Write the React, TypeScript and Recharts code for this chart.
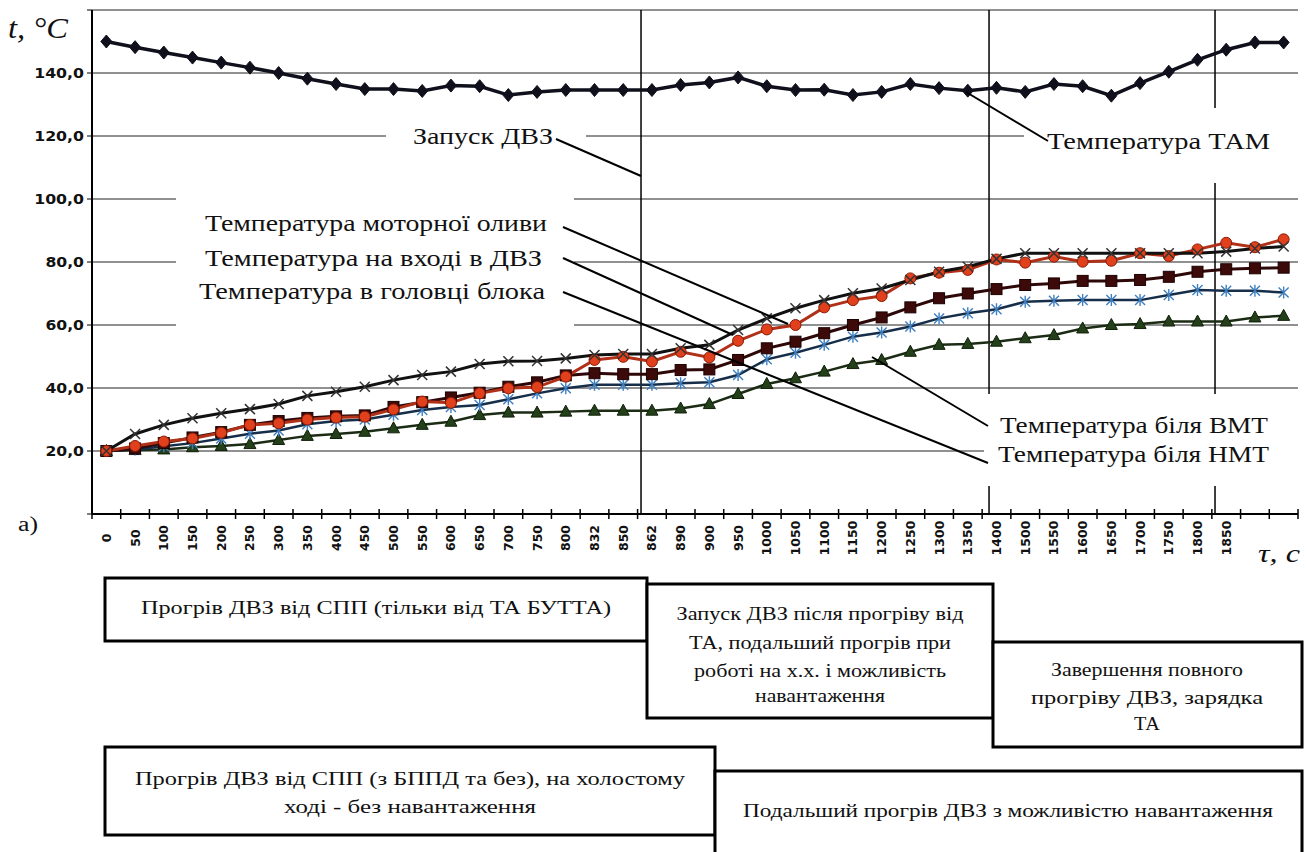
import React from 'react';
import { LineChart, Line, XAxis, YAxis, CartesianGrid, ReferenceLine } from 'recharts';

const timeLabels = ['0','50','100','150','200','250','300','350','400','450','500','550','600','650','700','750','800','832','850','862','890','900','950','1000','1050','1100','1150','1200','1250','1300','1350','1400','1500','1550','1600','1650','1700','1750','1800','1850','',''];

const tamTemp = [150,148.2,146.5,144.9,143.3,141.7,140,138.2,136.5,134.9,134.9,134.3,136,135.8,133,134,134.6,134.6,134.6,134.6,136.2,137,138.6,135.8,134.6,134.7,133,134,136.5,135.2,134.4,135.3,134,136.5,135.8,132.8,136.8,140.4,144.2,147.4,149.7,149.7];
const crossTemp = [20,25.4,28.3,30.4,32,33.3,34.9,37.5,38.8,40.4,42.5,44.1,45.2,47.6,48.5,48.6,49.4,50.5,50.8,50.8,52.6,53.7,58.4,62.1,65.3,67.9,70.1,71.6,74.3,76.9,78.5,81,82.8,82.8,82.8,82.8,82.8,82.8,82.8,83.3,84.3,84.9];
const oilTemp = [20,21.6,23,24,25.8,28.3,28.8,30,30.6,30.9,33.2,35.7,35.3,38.3,39.9,40.3,43.6,48.9,49.9,48.4,51.5,49.7,55,58.6,60,65.6,67.9,69.2,74.8,76.6,77.5,80.8,79.8,81.7,80.1,80.4,82.8,81.9,84,86.1,84.7,87.2];
const squareTemp = [20,20.8,22.5,24.3,26,28.3,29.5,30.5,31,31.3,34,35.5,37,38.5,40.4,41.8,44,44.7,44.4,44.4,45.7,45.9,48.9,52.6,54.7,57.4,60,62.4,65.6,68.5,70,71.4,72.7,73.2,74,74,74.3,75.3,76.9,77.7,78,78.2];
const starTemp = [20,20.5,21.5,22.5,24,25.5,26.5,28.5,29.5,30,31.5,33,34,34.6,36.4,38.3,39.9,41,41,41,41.5,41.8,44.1,49.1,51.2,53.7,56.3,57.6,59.5,62.1,63.7,65,67.4,67.7,67.9,67.9,67.9,69.5,71.1,70.9,70.9,70.3];
const triangleTemp = [20,20.3,20.5,21.2,21.6,22.2,23.5,24.8,25.4,26.1,27.2,28.3,29.3,31.4,32.2,32.2,32.5,32.8,32.8,32.8,33.5,34.9,38.1,41.3,43.1,45.2,47.6,48.9,51.5,53.7,54,54.7,55.8,56.8,58.9,60,60.3,61.1,61.1,61.1,62.4,62.9];

const yTicks = [0, 20, 40, 60, 80, 100, 120, 140, 160];
const phaseMarks = [18.62, 30.74, 38.61];

const data = timeLabels.map((label, i) => ({
  i,
  label,
  tam: tamTemp[i],
  cross: crossTemp[i],
  oil: oilTemp[i],
  square: squareTemp[i],
  star: starTemp[i],
  tri: triangleTemp[i],
}));

const xTicks: number[] = [];
for (let k = 0; k <= timeLabels.length * 2; k++) xTicks.push(-0.5 + k * 0.5);

const SERIF = 'Liberation Serif, Times New Roman, serif';
const SANS = 'DejaVu Sans, Verdana, sans-serif';

const XTick = (props: any) => {
  const { x, y, payload } = props;
  const v = payload.value;
  if (Math.abs(v - Math.round(v)) > 0.01) {
    return <line x1={x} x2={x} y1={y - 5} y2={y + 5} stroke="#000" strokeWidth={1.5} />;
  }
  const label = timeLabels[Math.round(v)] || '';
  if (!label) return <g />;
  return (
    <text
      transform={`translate(${x},${y + 24}) rotate(-90)`}
      textAnchor="middle"
      dominantBaseline="central"
      fontSize={12.5}
      fontWeight="bold"
      style={{ fontFamily: SANS }}
      fill="#111"
    >
      {label}
    </text>
  );
};

const YTick = (props: any) => {
  const { x, y, payload } = props;
  const v = payload.value;
  if (v === 0 || v === 160) return <g />;
  const label = v.toFixed(1).replace('.', ',');
  const digits = label.length - 1;
  return (
    <text
      x={x}
      y={y}
      textAnchor="end"
      dominantBaseline="central"
      fontSize={14}
      fontWeight="bold"
      style={{ fontFamily: SANS }}
      fill="#111"
      textLength={digits * 11.2 + 5}
      lengthAdjust="spacingAndGlyphs"
    >
      {label}
    </text>
  );
};

const nil = (p: any) => <g key={`n-${p.index}`} />;

const diamondDot = (p: any) => {
  if (p.cx == null || p.cy == null) return nil(p);
  const { cx, cy } = p;
  return <path key={`dm-${p.index}`} d={`M${cx},${cy - 6.5} L${cx + 5.5},${cy} L${cx},${cy + 6.5} L${cx - 5.5},${cy} Z`} fill="#10101c" stroke="#10101c" strokeWidth={1} />;
};
const crossDot = (p: any) => {
  if (p.cx == null || p.cy == null) return nil(p);
  const { cx, cy } = p;
  return <path key={`cr-${p.index}`} d={`M${cx - 5},${cy - 5} L${cx + 5},${cy + 5} M${cx - 5},${cy + 5} L${cx + 5},${cy - 5}`} stroke="#333" strokeWidth={1.5} fill="none" />;
};
const circleDot = (p: any) => {
  if (p.cx == null || p.cy == null) return nil(p);
  return <circle key={`ci-${p.index}`} cx={p.cx} cy={p.cy} r={5.5} fill="#e0401c" stroke="#8a1a05" strokeWidth={1} />;
};
const squareDot = (p: any) => {
  if (p.cx == null || p.cy == null) return nil(p);
  return <rect key={`sq-${p.index}`} x={p.cx - 5.5} y={p.cy - 5.5} width={11} height={11} fill="#3d0a0a" stroke="#1e0000" strokeWidth={1} />;
};
const starDot = (p: any) => {
  if (p.cx == null || p.cy == null) return nil(p);
  const { cx, cy } = p;
  return <path key={`st-${p.index}`} d={`M${cx - 5},${cy - 5} L${cx + 5},${cy + 5} M${cx - 5},${cy + 5} L${cx + 5},${cy - 5} M${cx},${cy - 6} L${cx},${cy + 6}`} stroke="#3f7fbf" strokeWidth={1.4} fill="none" />;
};
const triDot = (p: any) => {
  if (p.cx == null || p.cy == null) return nil(p);
  const { cx, cy } = p;
  return <path key={`tr-${p.index}`} d={`M${cx},${cy - 6.5} L${cx + 6},${cy + 4.5} L${cx - 6},${cy + 4.5} Z`} fill="#24401a" stroke="#0f1f08" strokeWidth={1} />;
};

const T = ({ x, y, w, size, anchor = 'start', italic = false, children }: any) => (
  <text
    x={x}
    y={y}
    fontSize={size}
    fontStyle={italic ? 'italic' : 'normal'}
    textAnchor={anchor}
    textLength={w}
    lengthAdjust="spacingAndGlyphs"
    fill="#111"
    style={{ fontFamily: SERIF }}
  >
    {children}
  </text>
);

const Box = ({ x, y, w, h }: any) => (
  <rect x={x} y={y} width={w} height={h} fill="#fff" stroke="#000" strokeWidth={3} />
);

export default function App() {
  return (
    <div style={{ position: 'absolute', left: 0, top: 0, width: 1306, height: 852, background: '#fff', overflow: 'hidden' }}>
      <div style={{ position: 'absolute', left: 0, top: 0 }}>
        <LineChart width={1306} height={852} data={data} margin={{ top: 10, right: 8, bottom: 0, left: 0 }}>
          <CartesianGrid horizontal vertical={false} stroke="#222" strokeWidth={1} />
          <XAxis
            dataKey="i"
            type="number"
            domain={[-0.5, 41.5]}
            ticks={xTicks}
            interval={0}
            tickLine={false}
            tickSize={0}
            tickMargin={0}
            height={338}
            axisLine={{ stroke: '#000', strokeWidth: 2 }}
            tick={<XTick />}
            allowDecimals
          />
          <YAxis
            type="number"
            domain={[0, 160]}
            ticks={yTicks}
            interval={0}
            width={92}
            tickSize={5}
            tickMargin={3}
            axisLine={{ stroke: '#000', strokeWidth: 2 }}
            tickLine={{ stroke: '#000', strokeWidth: 1 }}
            tick={<YTick />}
          />
          {phaseMarks.map((m) => (
            <ReferenceLine key={m} x={m} stroke="#000" strokeWidth={1.5} />
          ))}
          <Line type="linear" dataKey="tri" stroke="#1c2c14" strokeWidth={2.5} dot={triDot} activeDot={false} isAnimationActive={false} />
          <Line type="linear" dataKey="star" stroke="#162e4a" strokeWidth={2.5} dot={starDot} activeDot={false} isAnimationActive={false} />
          <Line type="linear" dataKey="square" stroke="#2e0808" strokeWidth={3} dot={squareDot} activeDot={false} isAnimationActive={false} />
          <Line type="linear" dataKey="oil" stroke="#b03018" strokeWidth={3} dot={circleDot} activeDot={false} isAnimationActive={false} />
          <Line type="linear" dataKey="cross" stroke="#111" strokeWidth={3} dot={crossDot} activeDot={false} isAnimationActive={false} />
          <Line type="linear" dataKey="tam" stroke="#10101c" strokeWidth={3.5} dot={diamondDot} activeDot={false} isAnimationActive={false} />
        </LineChart>
      </div>
      <svg width={1306} height={852} style={{ position: 'absolute', left: 0, top: 0, pointerEvents: 'none' }}>
        <rect x={386} y={122} width={200} height={36} fill="#fff" />
        <rect x={1024} y={108} width={282} height={75} fill="#fff" />
        <rect x={176} y={190} width={398} height={146} fill="#fff" />
        <rect x={984} y={394} width={322} height={92} fill="#fff" />

        <T x={8} y={38} w={60} size={30} italic>t, °C</T>
        <T x={18} y={531} w={20} size={20}>а)</T>
        <T x={1258} y={562} w={42} size={25} italic>τ, c</T>

        <T x={413} y={144} w={140} size={24}>Запуск ДВЗ</T>
        <T x={1047} y={149} w={223} size={24}>Температура ТАМ</T>
        <T x={205} y={231} w={342} size={24}>Температура моторної оливи</T>
        <T x={205} y={266} w={337} size={24}>Температура на вході в ДВЗ</T>
        <T x={199} y={299} w={346} size={24}>Температура в головці блока</T>
        <T x={1000} y={433} w={268} size={24}>Температура біля ВМТ</T>
        <T x={998} y={462} w={271} size={24}>Температура біля НМТ</T>

        <g stroke="#000" strokeWidth={2}>
          <line x1={556} y1={139} x2={641} y2={176} />
          <line x1={966} y1={92} x2={1048} y2={141} />
          <line x1={563} y1={227} x2={788} y2={324} />
          <line x1={563} y1={258} x2={733} y2={335} />
          <line x1={563} y1={292} x2={988} y2={463} />
          <line x1={872} y1={357} x2={988} y2={426} />
        </g>

        <Box x={105} y={578} w={542} h={63} />
        <T x={376} y={614} w={470} size={18} anchor="middle">Прогрів ДВЗ від СПП (тільки від ТА БУТТА)</T>

        <Box x={647} y={584} w={346} h={134} />
        <T x={820} y={620} w={287} size={18} anchor="middle">Запуск ДВЗ після прогріву від</T>
        <T x={820} y={649} w={262} size={18} anchor="middle">ТА, подальший прогрів при</T>
        <T x={820} y={677} w={252} size={18} anchor="middle">роботі на х.х. і можливість</T>
        <T x={820} y={702} w={130} size={18} anchor="middle">навантаження</T>

        <Box x={993} y={642} w={309} h={105} />
        <T x={1147} y={676} w={192} size={18} anchor="middle">Завершення повного</T>
        <T x={1147} y={704} w={232} size={18} anchor="middle">прогріву ДВЗ, зарядка</T>
        <T x={1147} y={730} w={26} size={18} anchor="middle">ТА</T>

        <Box x={105} y={747} w={610} h={88} />
        <T x={410} y={785} w={550} size={18} anchor="middle">Прогрів ДВЗ від СПП (з БППД та без), на холостому</T>
        <T x={410} y={813} w={252} size={18} anchor="middle">ході - без навантаження</T>

        <Box x={715} y={771} w={587} h={100} />
        <T x={1008} y={817} w={530} size={18} anchor="middle">Подальший прогрів ДВЗ з можливістю навантаження</T>
      </svg>
    </div>
  );
}
